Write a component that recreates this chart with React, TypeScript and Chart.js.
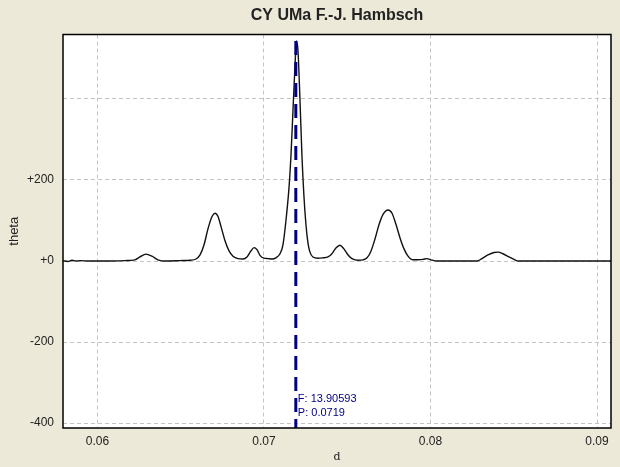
import React, { useEffect, useRef } from "react";
import { Chart, registerables } from "chart.js";

Chart.register(...registerables);

// Trial periods (d) and the matching theta statistic
const periods = [
  0.05793, 0.05823, 0.05847, 0.05871, 0.05895, 0.05955, 0.06075, 0.06165, 0.06225, 0.06255,
  0.06291, 0.06327, 0.06363, 0.06405, 0.06495, 0.06556, 0.06592, 0.06616, 0.0664, 0.06664,
  0.06688, 0.06706, 0.06724, 0.06742, 0.06766, 0.0679, 0.06814, 0.06844, 0.06874, 0.06898,
  0.06922, 0.0694, 0.06958, 0.06976, 0.07, 0.07024, 0.07048, 0.07072, 0.07096, 0.07114,
  0.07132, 0.0715, 0.07162, 0.07174, 0.07186, 0.07195, 0.07204, 0.07216, 0.07228, 0.0724,
  0.07252, 0.07264, 0.07276, 0.07294, 0.07324, 0.07354, 0.07384, 0.07408, 0.07432, 0.07456,
  0.0748, 0.07505, 0.07529, 0.07565, 0.07595, 0.07619, 0.07643, 0.07667, 0.07691, 0.07715,
  0.07745, 0.07769, 0.07793, 0.07817, 0.07841, 0.07865, 0.07895, 0.07925, 0.07955, 0.07979,
  0.08003, 0.08039, 0.08177, 0.08279, 0.08309, 0.08345, 0.08381, 0.08405, 0.08435, 0.08471,
  0.08502, 0.08526, 0.08658, 0.08898, 0.09084,
];

const thetaValues = [
  1, -1, 2, 0, 1, 0, 0, 1, 3, 10,
  17, 12, 3, 0, 1, 2, 5, 15, 40, 80,
  110, 118, 110, 85, 50, 25, 12, 6, 5, 10,
  25, 33, 28, 14, 7, 6, 5, 8, 18, 40,
  100, 180, 260, 370, 480, 543, 520, 400, 260, 160,
  90, 45, 22, 10, 7, 8, 10, 18, 32, 39,
  30, 15, 6, 2, 3, 8, 25, 55, 90, 115,
  126, 118, 90, 57, 30, 12, 3, 3, 4, 6,
  3, 0, 0, 0, 6, 15, 21, 22, 18, 10,
  4, 0, 0, 0, 0,
];

const xTicks = [0.06, 0.07, 0.08, 0.09];
const yTicks = [-400, -200, 0, 200, 400];

const xRange = [0.05793, 0.09084];
const yRange = [-412, 559];

// Selected frequency and the top of its marker
const frequency = 13.90593;
const markerTop = 543;

const uiFont = "'Liberation Sans', Arial, sans-serif";

export default function App() {
  const canvasRef = useRef<HTMLCanvasElement | null>(null);

  useEffect(() => {
    const canvas = canvasRef.current;
    if (!canvas) return;
    const period = 1 / frequency;

    const framePlugin = {
      id: "frame",
      beforeDraw(chart: any) {
        const { ctx, chartArea: a } = chart;
        ctx.save();
        ctx.fillStyle = "#ffffff";
        ctx.fillRect(a.left, a.top, a.right - a.left, a.bottom - a.top);
        ctx.restore();
      },
      afterDraw(chart: any) {
        const { ctx, chartArea: a, scales } = chart;
        ctx.save();
        ctx.strokeStyle = "#000000";
        ctx.lineWidth = 1.5;
        ctx.strokeRect(a.left, a.top, a.right - a.left, a.bottom - a.top);

        const px = scales.x.getPixelForValue(period);
        ctx.fillStyle = "#000080";
        ctx.font = `11px ${uiFont}`;
        ctx.textBaseline = "middle";
        ctx.textAlign = "left";
        ctx.fillText(`F: ${frequency.toFixed(5)}`, px + 2, a.bottom - 29);
        ctx.fillText(`P: ${period.toFixed(4)}`, px + 2, a.bottom - 15);
        ctx.restore();
      },
    };

    const chart = new Chart(canvas, {
      type: "scatter",
      data: {
        datasets: [
          {
            data: [
              { x: period, y: markerTop },
              { x: period, y: yRange[0] },
            ],
            showLine: true,
            borderColor: "#000080",
            borderWidth: 3,
            borderDash: [14, 7],
            pointRadius: 0,
            tension: 0,
            order: 0,
          },
          {
            data: periods.map((d, i) => ({ x: d, y: thetaValues[i] })),
            showLine: true,
            borderColor: "#111111",
            borderWidth: 1.4,
            pointRadius: 0,
            cubicInterpolationMode: "monotone",
            order: 1,
          },
        ],
      },
      options: {
        animation: false,
        responsive: true,
        maintainAspectRatio: false,
        devicePixelRatio: 1,
        layout: { padding: { left: 0, right: 9, top: 0, bottom: 0 } },
        plugins: {
          legend: { display: false },
          tooltip: { enabled: false },
          title: {
            display: true,
            fullSize: false,
            text: "CY UMa F.-J. Hambsch",
            color: "#222222",
            font: { family: uiFont, size: 16, weight: "bold" },
            padding: { top: 5.5, bottom: 9.8 },
          },
        },
        scales: {
          x: {
            type: "linear",
            min: xRange[0],
            max: xRange[1],
            afterBuildTicks: (s: any) => {
              s.ticks = xTicks.map((v) => ({ value: v }));
            },
            afterFit: (s: any) => {
              s.height = 39;
            },
            grid: { color: "#c4c4c4", lineWidth: 1, drawTicks: false },
            border: { display: false, dash: [4, 3] },
            ticks: {
              padding: 6,
              color: "#222222",
              font: { family: uiFont, size: 12 },
              maxRotation: 0,
              autoSkip: false,
              callback: (v: any) => Number(v).toFixed(2),
            },
            title: {
              display: true,
              text: "d",
              color: "#222222",
              font: { family: "'DejaVu Serif', 'Liberation Serif', serif", size: 11 },
              padding: 3,
            },
          },
          y: {
            type: "linear",
            min: yRange[0],
            max: yRange[1],
            afterBuildTicks: (s: any) => {
              s.ticks = yTicks.map((v) => ({ value: v }));
            },
            afterFit: (s: any) => {
              s.width = 63;
            },
            grid: { color: "#c4c4c4", lineWidth: 1, drawTicks: false },
            border: { display: false, dash: [4, 3] },
            ticks: {
              padding: 9,
              color: "#222222",
              font: { family: uiFont, size: 12 },
              autoSkip: false,
              callback: (v: any) => {
                const n = Number(v);
                if (n === 400) return "";
                return (n >= 0 ? "+" : "") + n;
              },
            },
            title: {
              display: true,
              text: "theta",
              color: "#222222",
              font: { family: uiFont, size: 13 },
              padding: 7,
            },
          },
        },
      },
      plugins: [framePlugin],
    } as any);

    return () => chart.destroy();
  }, []);

  return (
    <div
      style={{
        position: "fixed",
        left: 0,
        top: 0,
        width: 620,
        height: 467,
        background: "#ece9d8",
      }}
    >
      <canvas ref={canvasRef} />
    </div>
  );
}
